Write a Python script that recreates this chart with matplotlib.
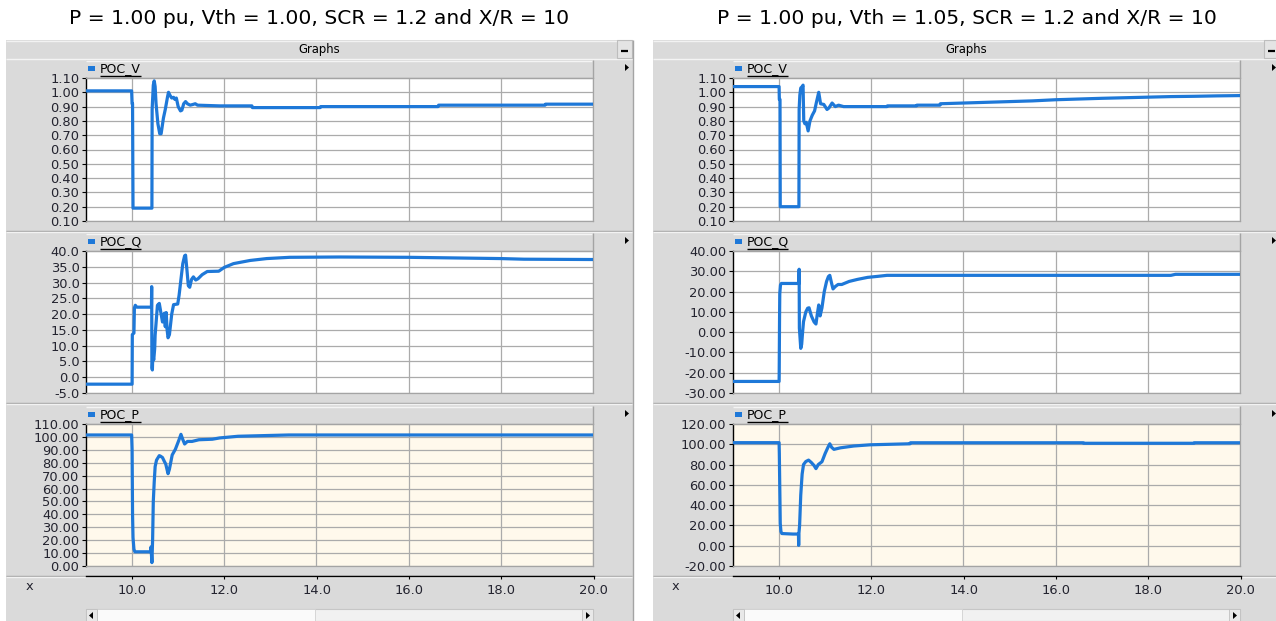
import matplotlib
matplotlib.use("Agg")
import matplotlib.pyplot as plt
from matplotlib.patches import Rectangle, Polygon
from matplotlib.lines import Line2D

# ---------------------------------------------------------------- data
titles = ["P = 1.00 pu, Vth = 1.00, SCR = 1.2 and X/R = 10",
          "P = 1.00 pu, Vth = 1.05, SCR = 1.2 and X/R = 10"]
signal_names = ["POC_V", "POC_Q", "POC_P"]
x_ticks = [10.0, 12.0, 14.0, 16.0, 18.0, 20.0]
x_range = (9.0, 20.0)

# Case 1 (Vth = 1.00)
t_v1 = [9.0, 9.99, 10.0, 10.01, 10.02, 10.43, 10.435, 10.46, 10.48, 10.50, 10.52,
        10.56, 10.60, 10.63, 10.68, 10.72, 10.77, 10.79, 10.82, 10.86, 10.90, 10.93,
        10.96, 11.00, 11.05, 11.08, 11.12, 11.16, 11.20, 11.26, 11.32, 11.37, 11.42,
        11.90, 12.60, 12.61, 14.08, 14.09, 16.64, 16.65, 18.96, 18.97, 20.0]
v1 = [1.01, 1.01, 0.92, 0.92, 0.19, 0.19, 0.88, 1.05, 1.08, 1.04, 0.92,
      0.78, 0.71, 0.71, 0.82, 0.88, 0.97, 1.00, 0.98, 0.96, 0.965, 0.95,
      0.96, 0.90, 0.87, 0.875, 0.92, 0.935, 0.92, 0.91, 0.915, 0.92, 0.91,
      0.905, 0.905, 0.893, 0.893, 0.90, 0.90, 0.91, 0.91, 0.917, 0.917]

t_q1 = [9.0, 10.0, 10.005, 10.04, 10.05, 10.07, 10.10, 10.42, 10.425, 10.43, 10.44,
        10.45, 10.47, 10.49, 10.50, 10.55, 10.59, 10.63, 10.66, 10.68, 10.70, 10.72,
        10.74, 10.76, 10.78, 10.81, 10.86, 10.90, 10.99, 11.02, 11.06, 11.10, 11.14,
        11.16, 11.19, 11.22, 11.25, 11.29, 11.33, 11.38, 11.43, 11.52, 11.63, 11.88,
        12.0, 12.2, 12.56, 12.92, 13.42, 14.5, 16.0, 17.0, 18.0, 18.5, 20.0]
q1 = [-2.2, -2.2, 13.5, 14.0, 22.0, 22.8, 22.2, 22.2, 28.7, 3.0, 2.3,
      7.0, 5.5, 9.0, 13.3, 22.8, 23.4, 20.0, 17.5, 19.0, 20.3, 16.0,
      20.5, 15.0, 12.5, 13.5, 20.0, 23.0, 23.2, 26.0, 31.0, 36.0, 38.5,
      38.7, 34.0, 29.0, 28.5, 31.0, 31.8, 30.8, 31.2, 32.5, 33.5, 33.6,
      34.8, 36.0, 37.0, 37.6, 38.0, 38.1, 38.0, 37.8, 37.6, 37.4, 37.3]

t_p1 = [9.0, 9.99, 10.0, 10.01, 10.02, 10.04, 10.06, 10.40, 10.41, 10.43, 10.445,
        10.46, 10.48, 10.50, 10.53, 10.59, 10.62, 10.66, 10.70, 10.73, 10.78, 10.81,
        10.87, 10.94, 11.01, 11.06, 11.10, 11.14, 11.20, 11.30, 11.45, 11.74, 11.90,
        12.30, 13.40, 20.0]
p1 = [101.5, 101.5, 90.0, 40.0, 22.0, 13.0, 11.0, 11.0, 14.8, 2.6, 20.0,
      50.0, 65.0, 77.0, 82.0, 85.5, 85.0, 84.0, 81.0, 79.0, 71.5, 75.0,
      86.0, 90.5, 97.0, 102.0, 98.0, 94.5, 96.5, 96.5, 97.8, 98.2, 99.2,
      100.5, 101.5, 101.5]

# Case 2 (Vth = 1.05)
t_v2 = [9.0, 10.0, 10.005, 10.02, 10.025, 10.43, 10.435, 10.45, 10.47, 10.50, 10.52,
        10.535, 10.56, 10.59, 10.63, 10.67, 10.72, 10.77, 10.81, 10.86, 10.90, 10.97,
        11.04, 11.08, 11.15, 11.22, 11.29, 11.40, 12.34, 12.35, 12.98, 12.99, 13.49,
        13.5, 14.0, 14.5, 15.0, 15.5, 16.0, 16.5, 17.0, 17.5, 18.0, 18.5, 19.0,
        19.5, 20.0]
v2 = [1.04, 1.04, 0.95, 0.95, 0.20, 0.20, 0.88, 0.98, 1.03, 1.04, 1.05,
      0.80, 0.78, 0.79, 0.73, 0.80, 0.84, 0.87, 0.93, 1.00, 0.92, 0.915,
      0.88, 0.89, 0.925, 0.90, 0.91, 0.90, 0.90, 0.905, 0.905, 0.91, 0.91,
      0.92, 0.925, 0.93, 0.935, 0.94, 0.948, 0.953, 0.958, 0.962, 0.966, 0.97, 0.972,
      0.975, 0.977]

t_q2 = [9.0, 10.0, 10.002, 10.01, 10.015, 10.03, 10.05, 10.43, 10.435, 10.44, 10.47,
        10.49, 10.51, 10.53, 10.58, 10.62, 10.65, 10.70, 10.76, 10.80, 10.83, 10.86,
        10.89, 10.93, 10.98, 11.03, 11.07, 11.10, 11.14, 11.17, 11.22, 11.28, 11.36,
        11.52, 11.70, 11.92, 12.14, 12.34, 18.5, 18.6, 20.0]
q2 = [-24.3, -24.3, -21.0, 7.0, 19.0, 23.3, 24.0, 24.0, 31.0, 2.0, -8.0,
      -6.0, 0.0, 5.2, 10.0, 11.8, 12.0, 8.0, 5.0, 4.0, 9.0, 13.4,
      8.0, 12.0, 20.0, 25.0, 27.4, 28.0, 24.0, 21.3, 22.5, 23.5, 23.5,
      25.0, 26.0, 27.0, 27.5, 28.0, 28.0, 28.5, 28.5]

t_p2 = [9.0, 10.0, 10.005, 10.02, 10.025, 10.04, 10.06, 10.30, 10.42, 10.425, 10.43,
        10.445, 10.47, 10.50, 10.53, 10.58, 10.64, 10.70, 10.76, 10.80, 10.85, 10.93,
        11.00, 11.06, 11.10, 11.14, 11.19, 11.33, 11.62, 11.98, 12.84, 12.85, 16.6,
        16.61, 19.0, 19.01, 20.0]
p2 = [101.6, 101.6, 91.0, 40.0, 22.0, 14.0, 12.0, 11.5, 11.5, 0.4, 12.0,
      20.0, 50.0, 70.6, 80.0, 83.0, 84.4, 82.0, 79.0, 76.0, 80.0, 82.8,
      91.0, 97.0, 100.5, 97.0, 95.0, 96.5, 98.3, 99.5, 100.5, 101.5, 101.5,
      101.0, 101.0, 101.5, 101.5]

# y-axis ticks and their printed labels
v_ticks = [0.10, 0.20, 0.30, 0.40, 0.50, 0.60, 0.70, 0.80, 0.90, 1.00, 1.10]
v_labels = ["0.10", "0.20", "0.30", "0.40", "0.50", "0.60", "0.70", "0.80", "0.90", "1.00", "1.10"]
q1_ticks = [-5.0, 0.0, 5.0, 10.0, 15.0, 20.0, 25.0, 30.0, 35.0, 40.0]
q1_labels = ["-5.0", "0.0", "5.0", "10.0", "15.0", "20.0", "25.0", "30.0", "35.0", "40.0"]
p1_ticks = [0, 10, 20, 30, 40, 50, 60, 70, 80, 90, 100, 110]
p1_labels = ["0.00", "10.00", "20.00", "30.00", "40.00", "50.00", "60.00", "70.00",
             "80.00", "90.00", "100.00", "110.00"]
q2_ticks = [-30, -20, -10, 0, 10, 20, 30, 40]
q2_labels = ["-30.00", "-20.00", "-10.00", "0.00", "10.00", "20.00", "30.00", "40.00"]
p2_ticks = [-20, 0, 20, 40, 60, 80, 100, 120]
p2_labels = ["-20.00", "0.00", "20.00", "40.00", "60.00", "80.00", "100.00", "120.00"]

# ---------------------------------------------------------------- styling
W, H = 1276, 621
LINE_BLUE = "#1E78D8"
FRAME = "#DADADA"
EDGE = "#A4A4A4"
GRID = "#ABABAB"
TXT = "#23232f"
CREAM = "#FFF9EC"

fig = plt.figure(figsize=(W / 100, H / 100), dpi=100)
fig.patch.set_facecolor("white")


def fbox(x0, y0, x1, y1):
    return [x0 / W, 1 - y1 / H, (x1 - x0) / W, (y1 - y0) / H]


def rect(x0, y0, x1, y1, fc, ec="none", lw=0.0, z=-5):
    fig.add_artist(Rectangle((x0 / W, 1 - y1 / H), (x1 - x0) / W, (y1 - y0) / H,
                             transform=fig.transFigure, facecolor=fc,
                             edgecolor=ec, linewidth=lw, zorder=z))


def seg(x0, y0, x1, y1, color, lw=1.0, z=-4):
    fig.add_artist(Line2D([x0 / W, x1 / W], [1 - y0 / H, 1 - y1 / H], color=color,
                          lw=lw, transform=fig.transFigure, zorder=z,
                          solid_capstyle="butt"))


def tri(pts, color="black", z=-3):
    fig.add_artist(Polygon([(x / W, 1 - y / H) for x, y in pts], closed=True,
                           transform=fig.transFigure, facecolor=color,
                           edgecolor="none", zorder=z))


def draw_panel(dx, title, series):
    # title above the graph frame
    fig.text((319.5 + dx) / W, 1 - 18 / H, title, ha="center", va="center",
             fontsize=14.6, color="black")

    # frame and "Graphs" header
    rect(6 + dx, 40, 633 + dx, 621, FRAME)
    seg(6 + dx, 40.5, 633 + dx, 40.5, "#F2F2F2")
    seg(6 + dx, 58.5, 633 + dx, 58.5, "#F4F4F4")
    fig.text((319.5 + dx) / W, 1 - 49.5 / H, "Graphs", ha="center", va="center",
             fontsize=8.4, color="black")
    rect(617 + dx, 40, 632 + dx, 58, "#E4E4E4", ec="#BDBDBD", lw=0.8, z=-4)
    seg(621 + dx, 50.5, 628 + dx, 50.5, "black", lw=1.6, z=-3)
    seg(632.5 + dx, 40, 632.5 + dx, 621, EDGE)

    plot_rows = [(78, 221), (251, 393), (424, 566)]
    separators = [230.5, 402.5, 575.5]

    for (y0, y1), sep, (name, t, y, ylim, ticks, labels, face) in zip(plot_rows, separators, series):
        # legend strip
        rect(86 + dx, y0 - 18, 592 + dx, y0 - 1, FRAME, z=-4)
        seg(86 + dx, y0 - 17.5, 592 + dx, y0 - 17.5, "#F4F4F4", z=-3)
        seg(86 + dx, y0 - 0.5, 592 + dx, y0 - 0.5, EDGE, z=-3)
        seg(592.5 + dx, y0 - 18, 592.5 + dx, y0, EDGE, z=-3)
        rect(88 + dx, y0 - 12, 95 + dx, y0 - 7, LINE_BLUE, z=-3)
        fig.text((100 + dx) / W, 1 - (y0 - 9.5) / H, name, ha="left", va="center",
                 fontsize=9, color="black")
        seg(100 + dx, y0 - 2.0, 141 + dx, y0 - 2.0, "black", lw=1.0, z=-3)
        tri([(625 + dx, y0 - 14), (629 + dx, y0 - 10.5), (625 + dx, y0 - 7)])

        # section separator
        seg(6 + dx, sep, 632 + dx, sep, EDGE)
        seg(6 + dx, sep + 1, 632 + dx, sep + 1, "#F2F2F2")

        ax = fig.add_axes(fbox(86 + dx, y0, 593 + dx, y1))
        ax.set_facecolor(face)
        ax.plot(t, y, color=LINE_BLUE, lw=2.3, solid_joinstyle="round", zorder=3)
        ax.set_xlim(*x_range)
        ax.set_ylim(*ylim)
        ax.set_yticks(ticks)
        ax.set_yticklabels(labels)
        ax.set_xticks(x_ticks)
        ax.tick_params(axis="x", length=0, labelbottom=False)
        ax.tick_params(axis="y", direction="out", length=3.2, width=0.8,
                       color="black", pad=1.5, labelsize=9.4, labelcolor=TXT)
        ax.grid(True, color=GRID, lw=0.9)
        ax.set_axisbelow(True)
        for side in ("top", "right", "bottom"):
            ax.spines[side].set_color(EDGE)
            ax.spines[side].set_linewidth(0.9)
        ax.spines["left"].set_color("black")
        ax.spines["left"].set_linewidth(1.0)

    # shared time axis
    axx = fig.add_axes(fbox(86 + dx, 566, 593.5 + dx, 576))
    axx.patch.set_visible(False)
    axx.set_xlim(*x_range)
    axx.set_xticks(x_ticks)
    axx.set_xticklabels([f"{v:.1f}" for v in x_ticks])
    axx.set_yticks([])
    for side in ("top", "right", "left"):
        axx.spines[side].set_visible(False)
    axx.spines["bottom"].set_color("black")
    axx.spines["bottom"].set_linewidth(1.0)
    axx.tick_params(axis="x", direction="out", length=2.5, width=0.8, color="black",
                    pad=3, labelsize=9.4, labelcolor=TXT)
    fig.text((29 + dx) / W, 1 - 587 / H, "x", ha="center", va="center",
             fontsize=9.4, color=TXT)

    # horizontal scroll bar
    rect(86 + dx, 609, 593 + dx, 621, "#F1F1F1", ec="#C6C6C6", lw=0.8, z=-4)
    rect(97 + dx, 609, 315 + dx, 621, "#FAFAFA", ec="#D0D0D0", lw=0.6, z=-4)
    rect(86 + dx, 609, 97 + dx, 621, "#E8E8E8", ec="#C0C0C0", lw=0.6, z=-4)
    rect(582 + dx, 609, 593 + dx, 621, "#E8E8E8", ec="#C0C0C0", lw=0.6, z=-4)
    tri([(93 + dx, 612), (89 + dx, 615.5), (93 + dx, 619)])
    tri([(586 + dx, 612), (590 + dx, 615.5), (586 + dx, 619)])


panels = [
    (0, titles[0], [
        (signal_names[0], t_v1, v1, (0.10, 1.10), v_ticks, v_labels, "white"),
        (signal_names[1], t_q1, q1, (-5.0, 40.0), q1_ticks, q1_labels, "white"),
        (signal_names[2], t_p1, p1, (0.0, 110.0), p1_ticks, p1_labels, CREAM),
    ]),
    (647, titles[1], [
        (signal_names[0], t_v2, v2, (0.10, 1.10), v_ticks, v_labels, "white"),
        (signal_names[1], t_q2, q2, (-30.0, 40.0), q2_ticks, q2_labels, "white"),
        (signal_names[2], t_p2, p2, (-20.0, 120.0), p2_ticks, p2_labels, CREAM),
    ]),
]

for dx, title, series in panels:
    draw_panel(dx, title, series)

fig.savefig("out.png", dpi=100, facecolor=fig.get_facecolor())
